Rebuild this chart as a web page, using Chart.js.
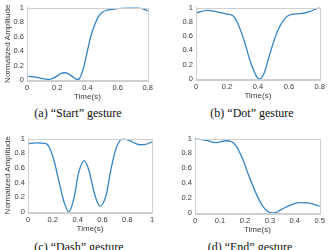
<!DOCTYPE html>
<html>
<head>
<meta charset="utf-8">
<script src="https://cdn.jsdelivr.net/npm/chart.js@4"></script>
<style>
  body { margin: 0; background: #fff; }
  #wrap { position: relative; width: 332px; height: 250px; overflow: hidden; }
  .box { position: absolute; }
  .cap {
    position: absolute;
    font-family: "Liberation Serif", serif;
    font-size: 12px;
    color: #111;
    white-space: nowrap;
    transform: translate(-50%, -50%);
  }
</style>
</head>
<body>
<div id="wrap">
  <div class="box" style="left:0;top:0;width:156px;height:104px"><canvas id="cStart"></canvas></div>
  <div class="box" style="left:168px;top:0;width:160px;height:103px"><canvas id="cDot"></canvas></div>
  <div class="box" style="left:0;top:131px;width:160px;height:105px"><canvas id="cDash"></canvas></div>
  <div class="box" style="left:168px;top:131px;width:160px;height:106px"><canvas id="cEnd"></canvas></div>
  <div class="cap" style="left:78px;top:113px">(a) “Start” gesture</div>
  <div class="cap" style="left:252px;top:113px">(b) “Dot” gesture</div>
  <div class="cap" style="left:79px;top:247px">(c) “Dash” gesture</div>
  <div class="cap" style="left:250px;top:247px">(d) “End” gesture</div>
</div>
<script>
// values
const startTime = [0, 0.025, 0.05, 0.075, 0.1, 0.125, 0.15, 0.175, 0.2, 0.225, 0.25, 0.275, 0.3, 0.325, 0.335, 0.35, 0.375, 0.4, 0.425, 0.45, 0.475, 0.5, 0.525, 0.55, 0.6, 0.65, 0.7, 0.75, 0.8];
const startAmp  = [0.05, 0.047, 0.04, 0.033, 0.022, 0.013, 0.01, 0.025, 0.055, 0.09, 0.10, 0.085, 0.05, 0.012, 0.005, 0.03, 0.17, 0.40, 0.62, 0.77, 0.88, 0.935, 0.96, 0.972, 0.985, 0.995, 1.0, 0.99, 0.955];

const dotTime = [0, 0.073, 0.138, 0.2, 0.235, 0.267, 0.31, 0.353, 0.396, 0.413, 0.44, 0.48, 0.525, 0.57, 0.61, 0.675, 0.73, 0.8];
const dotAmp  = [0.924, 0.96, 0.94, 0.906, 0.89, 0.79, 0.545, 0.23, 0.02, 0.0, 0.08, 0.37, 0.66, 0.835, 0.9, 0.915, 0.94, 1.0];

const dashTime = [0, 0.065, 0.145, 0.17, 0.21, 0.25, 0.29, 0.33, 0.37, 0.41, 0.455, 0.495, 0.535, 0.58, 0.63, 0.67, 0.71, 0.765, 0.82, 0.9, 0.95, 1.0];
const dashAmp  = [0.93, 0.94, 0.93, 0.885, 0.70, 0.41, 0.14, 0.0, 0.185, 0.545, 0.70, 0.545, 0.255, 0.08, 0.23, 0.59, 0.865, 0.995, 0.97, 0.915, 0.92, 0.955];

const endTime = [0, 0.045, 0.085, 0.125, 0.145, 0.165, 0.19, 0.218, 0.245, 0.27, 0.298, 0.318, 0.345, 0.378, 0.418, 0.45, 0.477, 0.5];
const endAmp  = [1.0, 0.975, 0.945, 0.97, 0.96, 0.90, 0.73, 0.48, 0.26, 0.10, 0.01, 0.0, 0.045, 0.10, 0.14, 0.135, 0.115, 0.09];

const yTicks = [0, 0.2, 0.4, 0.6, 0.8, 1];

const lineColor = "#3585c6";
const boxColor = "#cfcfcf";
const textColor = "#3a3a3a";

// matlab style labels: 0, 0.2 ... 1
function fmt(v) {
    return String(Math.round(v * 10) / 10);
}

// draws the top and right edges of the axes box
const boxPlugin = {
    id: "boxEdges",
    afterDraw(chart) {
        const a = chart.chartArea;
        const ctx = chart.ctx;
        ctx.save();
        ctx.strokeStyle = boxColor;
        ctx.lineWidth = 1;
        ctx.strokeRect(Math.round(a.left) + 0.5, Math.round(a.top) + 0.5,
            Math.round(a.right - a.left), Math.round(a.bottom - a.top));
        ctx.restore();
    }
};

function makeChart(id, xs, ys, xMax, xStep, opts) {
    const pts = xs.map((x, i) => ({ x: x, y: ys[i] }));
    return new Chart(document.getElementById(id), {
        type: "line",
        data: {
            datasets: [{
                data: pts,
                borderColor: lineColor,
                borderWidth: 1.3,
                pointRadius: 0,
                cubicInterpolationMode: "monotone",
                fill: false
            }]
        },
        options: {
            responsive: true,
            maintainAspectRatio: false,
            animation: false,
            events: [],
            layout: {
                autoPadding: false,
                padding: { top: opts.top, right: opts.right, left: 0, bottom: 0 }
            },
            plugins: { legend: { display: false }, tooltip: { enabled: false } },
            scales: {
                x: {
                    type: "linear",
                    min: 0,
                    max: xMax,
                    afterFit(s) { s.height = 24; },
                    ticks: {
                        stepSize: xStep,
                        padding: 3,
                        color: textColor,
                        callback: fmt,
                        font: { family: "Liberation Sans", size: 7.5 }
                    },
                    grid: { drawOnChartArea: false, drawTicks: false },
                    border: { color: boxColor },
                    title: {
                        display: true,
                        text: "Time(s)",
                        color: textColor,
                        padding: { top: 1, bottom: 2 },
                        font: { family: "Liberation Sans", size: 8 }
                    }
                },
                y: {
                    min: 0,
                    max: 1,
                    afterFit(s) { s.width = opts.yw; },
                    afterBuildTicks(s) { s.ticks = yTicks.map(v => ({ value: v })); },
                    ticks: {
                        padding: 3,
                        color: textColor,
                        callback: fmt,
                        font: { family: "Liberation Sans", size: 7.5 }
                    },
                    grid: { drawOnChartArea: false, drawTicks: false },
                    border: { color: boxColor },
                    title: {
                        display: opts.yTitle,
                        text: "Normalized Amplitude",
                        color: textColor,
                        padding: { top: 3, bottom: 0 },
                        font: { family: "Liberation Sans", size: 8 }
                    }
                }
            }
        },
        plugins: [boxPlugin]
    });
}

makeChart("cStart", startTime, startAmp, 0.8, 0.2, { top: 6.5, right: 8, yw: 27, yTitle: true });
makeChart("cDot", dotTime, dotAmp, 0.8, 0.2, { top: 5, right: 8, yw: 28, yTitle: false });
makeChart("cDash", dashTime, dashAmp, 1, 0.2, { top: 7, right: 8, yw: 28, yTitle: true });
makeChart("cEnd", endTime, endAmp, 0.5, 0.1, { top: 7, right: 7, yw: 27, yTitle: false });
</script>
</body>
</html>
